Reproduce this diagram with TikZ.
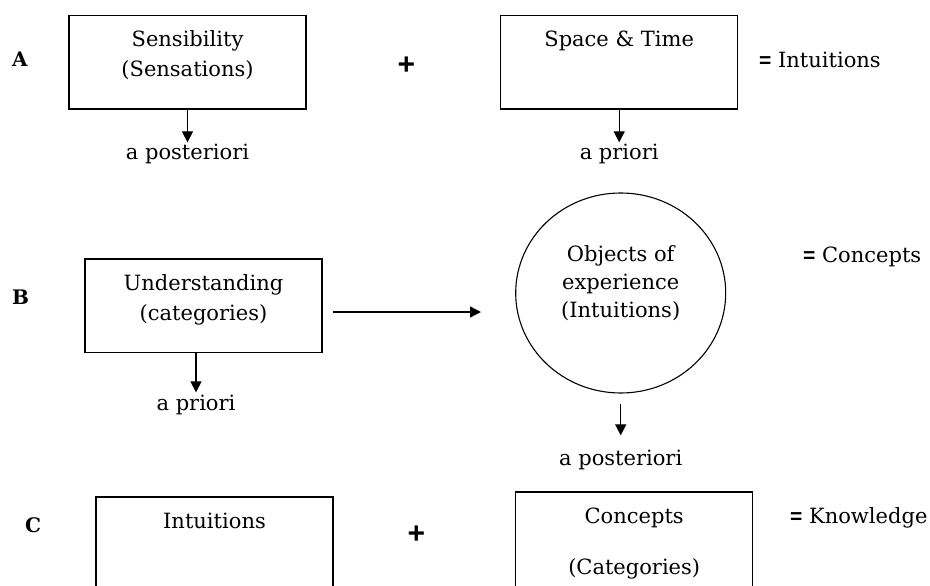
\documentclass[tikz,border=0pt]{standalone}
\usepackage{fontspec}
\setmainfont{DejaVu Serif}
\newfontfamily\opfamily{Liberation Sans}
\usepackage{tikz}
\usetikzlibrary{positioning,arrows.meta,shapes.geometric}
\newcommand{\txtfont}{\fontsize{21}{30}\selectfont}
\newcommand{\tagfont}{\fontsize{20}{24}\selectfont\bfseries}
\newcommand{\opfont}{\opfamily\fontsize{30}{30}\selectfont\bfseries}
\newcommand{\eqsign}{{\opfamily\bfseries =}}
\newcommand{\boxtext}[3]{%
  \begin{minipage}[t][#2][t]{#1}\centering
    \rule{0pt}{31pt}#3\par
  \end{minipage}}

\begin{document}
\begin{tikzpicture}[x=1pt,y=1pt,
    kbox/.style={draw=black,line width=1.1pt,shape=rectangle,inner sep=0pt,
                 outer sep=0pt,anchor=north west,font=\txtfont},
    tag/.style={inner sep=0pt,font=\tagfont},
    op/.style={inner sep=0pt,font=\opfont},
    eqn/.style={anchor=base west,inner sep=0pt,font=\txtfont},
    lbl/.style={anchor=base,inner sep=2pt,font=\txtfont},
    flow/.style={-{Triangle[length=11pt,width=11pt]},line width=1.3pt,draw=black}]

\useasboundingbox (0,0) rectangle (930,-586);
\clip (0,0) rectangle (930,-586);

% ======================= row A: intuitions ============================================
\node[tag] (tA) at (20,-59.5) {A};
\node[kbox] (sens) at (69,-15.7)    {\boxtext{237pt}{93.3pt}{Sensibility\\(Sensations)}};
\node[op]   (plA) at (406.5,-65.5)  {+};
\node[kbox] (spti) at (500.7,-15.7) {\boxtext{237pt}{93.3pt}{Space \& Time}};
\node[eqn]  (eqA) at (759,-68)      {\eqsign\ Intuitions};
\node[lbl]  (postA) at (187.5,-160) {a posteriori};
\node[lbl]  (prioA) at (619.2,-160) {a priori};
\draw[flow] (sens.south) -- (postA.north);
\draw[flow] (spti.south) -- (prioA.north);

% ======================= row B: concepts ==============================================
\node[tag] (tB) at (20.5,-297) {B};
\node[kbox] (und) at (85,-259) {\boxtext{237pt}{93.7pt}{Understanding\\(categories)}};
\node[draw=black,line width=1.1pt,shape=ellipse,minimum width=210pt,minimum height=200pt,
      inner sep=0pt,align=center,font=\fontsize{21}{28}\selectfont] (obj) at (620.7,-293)
      {Objects of\\experience\\(Intuitions)\rule[-22pt]{0pt}{22pt}};
\node[eqn]  (eqB) at (803,-262)    {\eqsign\ Concepts};
\node[lbl]  (prioB) at (196,-410)  {a priori};
\node[lbl]  (postB) at (620.7,-465) {a posteriori};
\coordinate (tipB) at (481,-312);
\draw[flow,shorten <=11pt] (und.east |- tipB) -- (tipB);
\draw[flow] (und.south -| prioB) -- (prioB.north);
\draw[flow,shorten <=10pt,shorten >=12pt] (obj.south) -- (postB.north);

% ======================= row C: knowledge =============================================
\node[tag] (tC) at (33,-525) {C};
\node[kbox] (intu) at (96,-497)    {\boxtext{237pt}{120pt}{Intuitions}};
\node[op]   (plC) at (416.5,-534.5) {+};
\node[kbox] (conc) at (515.7,-492) {\boxtext{237pt}{120pt}{Concepts\\[21pt](Categories)}};
\node[eqn]  (eqC) at (790,-523)    {\eqsign\ Knowledge};

\end{tikzpicture}
\end{document}
